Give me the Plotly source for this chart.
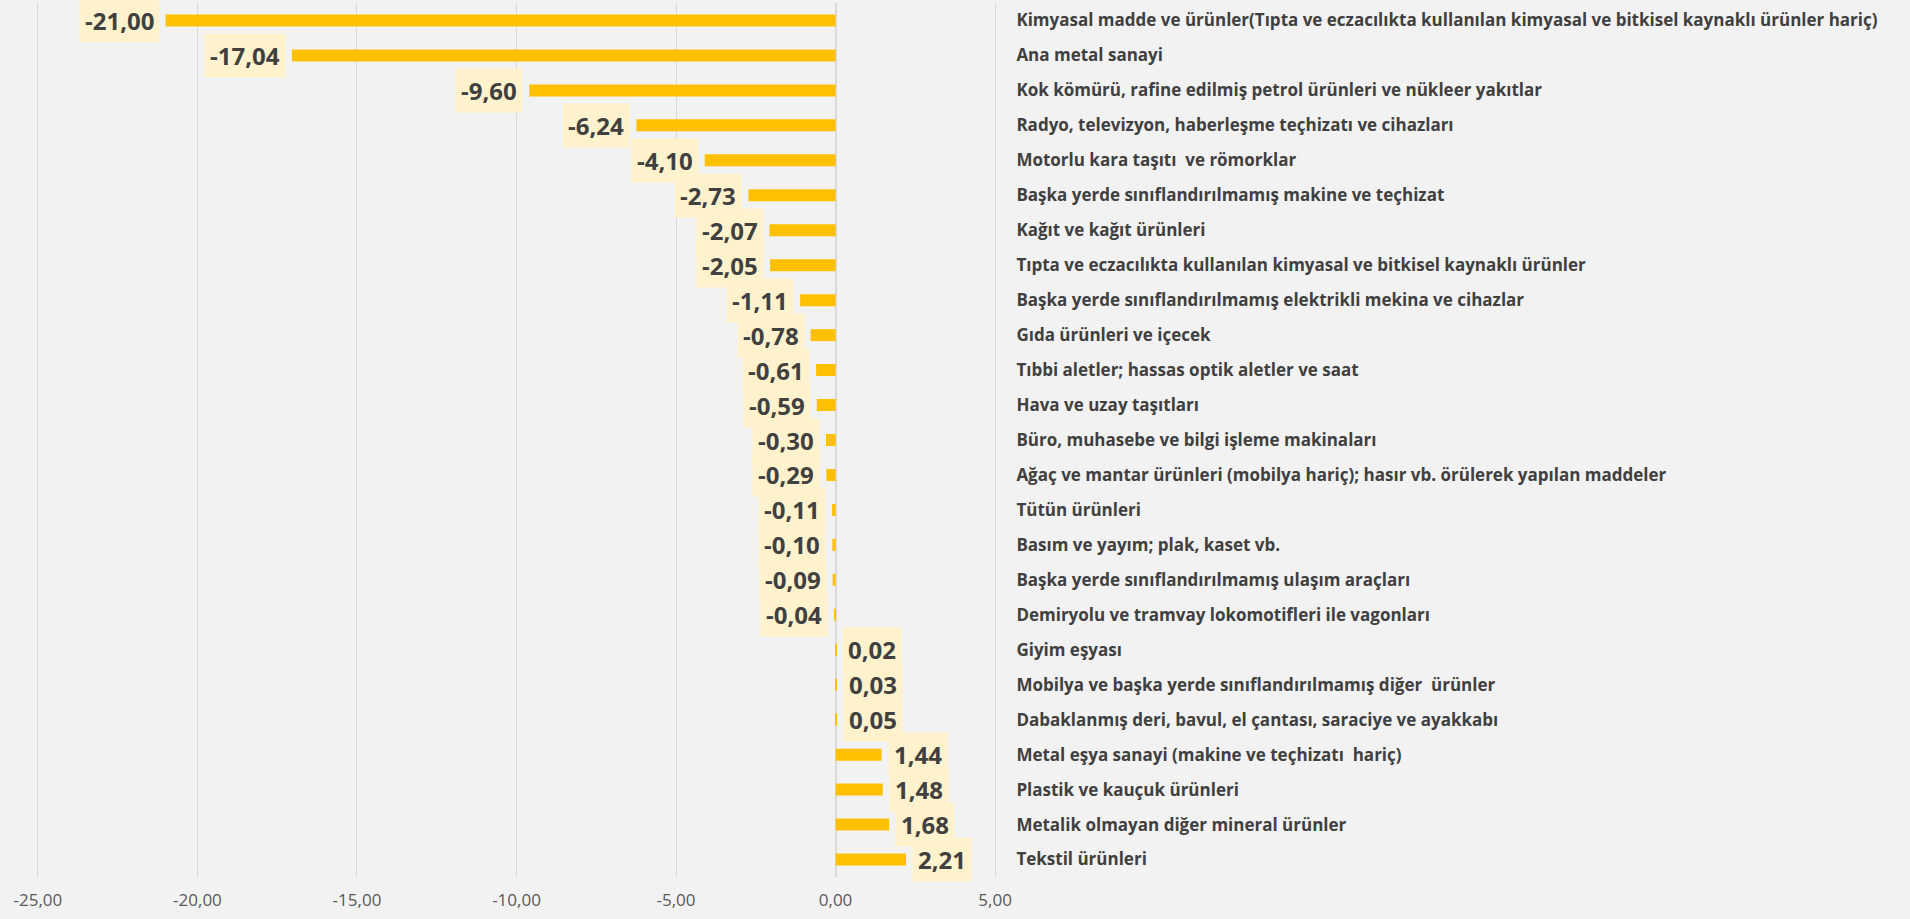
import plotly.graph_objects as go

categories = [
    "Kimyasal madde ve ürünler(Tıpta ve eczacılıkta kullanılan kimyasal ve bitkisel kaynaklı ürünler hariç)",
    "Ana metal sanayi",
    "Kok kömürü, rafine edilmiş petrol ürünleri ve nükleer yakıtlar",
    "Radyo, televizyon, haberleşme teçhizatı ve cihazları",
    "Motorlu kara taşıtı  ve römorklar",
    "Başka yerde sınıflandırılmamış makine ve teçhizat",
    "Kağıt ve kağıt ürünleri",
    "Tıpta ve eczacılıkta kullanılan kimyasal ve bitkisel kaynaklı ürünler",
    "Başka yerde sınıflandırılmamış elektrikli mekina ve cihazlar",
    "Gıda ürünleri ve içecek",
    "Tıbbi aletler; hassas optik aletler ve saat",
    "Hava ve uzay taşıtları",
    "Büro, muhasebe ve bilgi işleme makinaları",
    "Ağaç ve mantar ürünleri (mobilya hariç); hasır vb. örülerek yapılan maddeler",
    "Tütün ürünleri",
    "Basım ve yayım; plak, kaset vb.",
    "Başka yerde sınıflandırılmamış ulaşım araçları",
    "Demiryolu ve tramvay lokomotifleri ile vagonları",
    "Giyim eşyası",
    "Mobilya ve başka yerde sınıflandırılmamış diğer  ürünler",
    "Dabaklanmış deri, bavul, el çantası, saraciye ve ayakkabı",
    "Metal eşya sanayi (makine ve teçhizatı  hariç)",
    "Plastik ve kauçuk ürünleri",
    "Metalik olmayan diğer mineral ürünler",
    "Tekstil ürünleri",
]

values = [-21.00, -17.04, -9.60, -6.24, -4.10, -2.73, -2.07, -2.05, -1.11, -0.78,
          -0.61, -0.59, -0.30, -0.29, -0.11, -0.10, -0.09, -0.04,
          0.02, 0.03, 0.05, 1.44, 1.48, 1.68, 2.21]

tick_values = [-25, -20, -15, -10, -5, 0, 5]
tick_labels = ["-25,00", "-20,00", "-15,00", "-10,00", "-5,00", "0,00", "5,00"]

BG = "#F2F2F2"
GRID = "#D9D9D9"
BAR = "#FFC000"
LABEL_BG = "#FFF2CC"
TEXT = "#404040"
FONT = "Open Sans"

fig = go.Figure()
fig.add_trace(go.Bar(
    x=values, y=categories, orientation="h",
    marker=dict(color=BAR, line=dict(width=0)),
    hoverinfo="skip",
))

annotations = []
for c, v in zip(categories, values):
    txt = f"{v:.2f}".replace(".", ",")
    neg = v < 0
    annotations.append(dict(
        x=v, y=c, xref="x", yref="y",
        text=txt, showarrow=False,
        xanchor="right" if neg else "left",
        yanchor="middle",
        xshift=-6 if neg else 6,
        bgcolor=LABEL_BG, borderpad=5,
        font=dict(family=FONT, size=24, color=TEXT, weight="bold"),
    ))

fig.update_layout(
    width=1910, height=919,
    paper_bgcolor=BG, plot_bgcolor=BG,
    margin=dict(l=36, r=913, t=3, b=42, autoexpand=False),
    bargap=0.656,
    showlegend=False,
    separators=",.",
    annotations=annotations,
    xaxis=dict(
        range=[-25.06, 5.06], tickvals=tick_values, ticktext=tick_labels,
        showgrid=True, gridcolor=GRID, gridwidth=1,
        zeroline=True, zerolinecolor=GRID, zerolinewidth=1.5,
        showline=False, ticks="outside", ticklen=8, tickcolor="rgba(0,0,0,0)",
        tickfont=dict(family=FONT, size=17, color="#595959"),
        fixedrange=True, automargin=False,
    ),
    yaxis=dict(
        side="right", range=[len(categories) - 0.5, -0.5],
        showgrid=False, zeroline=False, showline=False,
        ticks="outside", ticklen=15, tickcolor="rgba(0,0,0,0)",
        tickfont=dict(family=FONT, size=17, color=TEXT, weight="bold"),
        fixedrange=True, automargin=False,
    ),
)

fig.write_html(
    "out.html",
    config={"displayModeBar": False},
    post_script="document.body.style.margin='0';document.body.style.background='#F2F2F2';",
)
